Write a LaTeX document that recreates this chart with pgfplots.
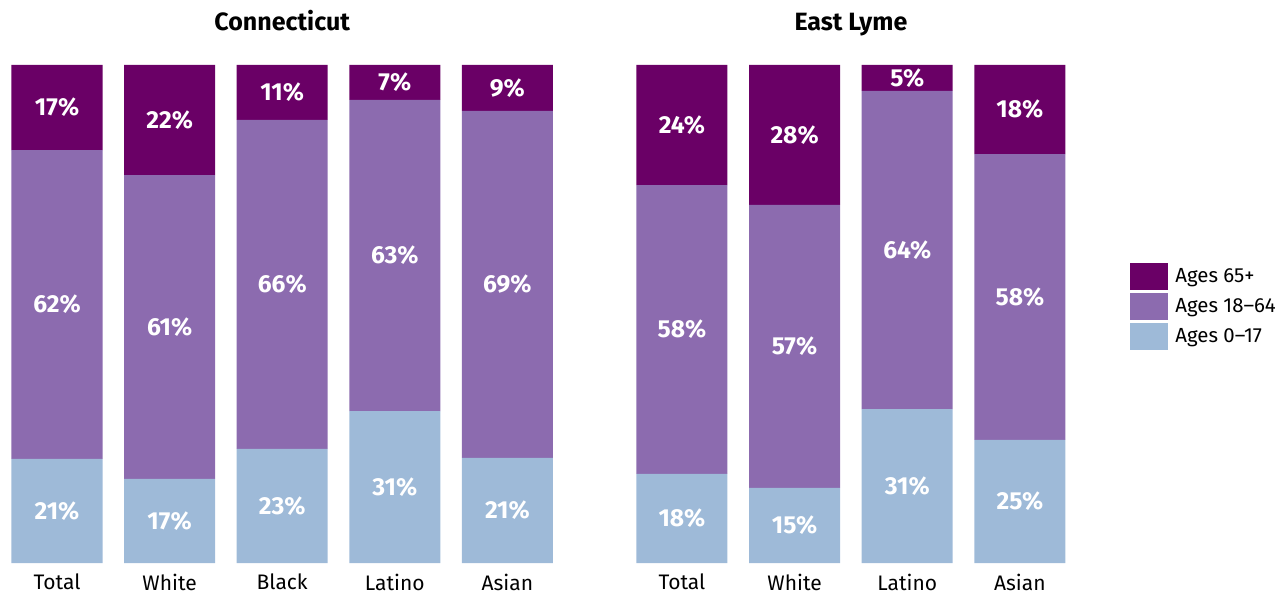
\documentclass[border=0pt]{standalone}
\usepackage{pgfplots}
\pgfplotsset{compat=1.18}
\usepackage{fontspec}
\setmainfont{Fira Sans}
\definecolor{old}{HTML}{6A0066}
\definecolor{mid}{HTML}{8C6BAF}
\definecolor{young}{HTML}{9EBAD8}

\pgfplotsset{
  agebar/.style={
    ybar stacked, bar width=45.5pt,
    scale only axis, height=249pt,
    ymin=0, ymax=100, xmin=-0.5,
    axis line style={draw=none}, ytick=\empty,
    major tick length=0pt, xtick=data,
    xticklabel style={font=\fontsize{10.5}{12}\selectfont, yshift=-2pt},
    title style={font=\bfseries\fontsize{12.5}{15}\selectfont,
      anchor=base, at={(0.5,1)}, yshift=11pt},
    point meta=explicit symbolic,
    nodes near coords,
    every node near coord/.append style={
      font=\bfseries\fontsize{12.3}{14}\selectfont, text=white,
      anchor=center},
  },
}

\begin{document}
\begin{tikzpicture}
\useasboundingbox (0,-15.5pt) rectangle (642.5pt,281.5pt);

\begin{axis}[agebar, at={(0.35pt,0)}, anchor=south west,
  width=281.5pt, xmax=4.5, title={Connecticut},
  xticklabels={Total, White, Black, Latino, Asian}]
  \addplot[fill=young, draw=none] coordinates
    {(0,20.9)[21\%] (1,16.9)[17\%] (2,22.9)[23\%] (3,30.5)[31\%] (4,21.1)[21\%]};
  \addplot[fill=mid, draw=none] coordinates
    {(0,62.0)[62\%] (1,61.0)[61\%] (2,66.1)[66\%] (3,62.5)[63\%] (4,69.7)[69\%]};
  \addplot[fill=old, draw=none] coordinates
    {(0,17.1)[17\%] (1,22.1)[22\%] (2,11.0)[11\%] (3,7.0)[7\%] (4,9.2)[9\%]};
\end{axis}

\begin{axis}[agebar, at={(312.8pt,0)}, anchor=south west,
  width=225.3pt, xmax=3.5, title={East Lyme},
  xticklabels={Total, White, Latino, Asian},
  reverse legend,
  legend style={at={(axis description cs:1.1194,0.515)}, anchor=west,
    draw=none, fill=none, inner sep=0pt, row sep=1.5pt,
    font=\fontsize{10.2}{12}\selectfont, cells={anchor=west},
    /tikz/every odd column/.append style={column sep=1.5pt}},
  legend image code/.code={\fill[#1] (0pt,-6.75pt) rectangle (19pt,6.75pt);}]
  \addplot[fill=young, draw=none] coordinates
    {(0,17.9)[18\%] (1,15.1)[15\%] (2,30.9)[31\%] (3,24.7)[25\%]};
  \addplot[fill=mid, draw=none] coordinates
    {(0,58.0)[58\%] (1,56.8)[57\%] (2,63.9)[64\%] (3,57.4)[58\%]};
  \addplot[fill=old, draw=none] coordinates
    {(0,24.1)[24\%] (1,28.1)[28\%] (2,5.2)[5\%] (3,17.9)[18\%]};
  \legend{Ages 0--17, Ages 18--64, Ages 65+}
\end{axis}
\end{tikzpicture}
\end{document}
